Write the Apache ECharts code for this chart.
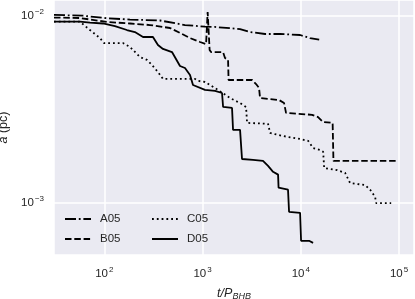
<!DOCTYPE html>
<html>
<head>
<meta charset="utf-8">
<script src="https://cdn.jsdelivr.net/npm/echarts@6/dist/echarts.min.js"></script>
<style>
html,body{margin:0;padding:0;background:#fff;}
#c{width:415px;height:299px;}
</style>
</head>
<body>
<div id="c"></div>
<script>
// ---- data (t/P_BHB, a in pc) ----
const a05X = [30.8, 60.7, 106.5, 183, 369, 663, 1060, 1340, 2410, 3050, 4330, 6150, 9840, 12400, 15400];
const a05Y = [0.0101, 0.0100, 0.00969, 0.00954, 0.00943, 0.00892, 0.00874, 0.00871, 0.00849, 0.00818, 0.00799, 0.00799, 0.00789, 0.00760, 0.00746];

const b05X = [30.8, 56.6, 106.5, 183, 292, 467, 590, 746, 944, 1087, 1120, 1128, 1173, 1181, 1221, 1618, 1694, 1820, 1841, 3190, 3506, 3759, 3850, 6010, 6760, 7080, 13030, 15000, 16860, 21100, 21500, 98000];
const b05Y = [0.00978, 0.00972, 0.00926, 0.00909, 0.00892, 0.00860, 0.00809, 0.00760, 0.00724, 0.00706, 0.00706, 0.01047, 0.01047, 0.00657, 0.00640, 0.00640, 0.00595, 0.00581, 0.00454, 0.00454, 0.00432, 0.00412, 0.00364, 0.00355, 0.00342, 0.00303, 0.00296, 0.00288, 0.00271, 0.00268, 0.00168, 0.00168];

const c05X = [30.8, 56.6, 71.5, 90.4, 99.3, 155, 183, 231, 272, 306, 352, 396, 839, 900, 1060, 1192, 1438, 1906, 2410, 2774, 2840, 4645, 4870, 6610, 9840, 11880, 13360, 15740, 16900, 17300, 23450, 28270, 31770, 45160, 50800, 57100, 58480, 83180];
const c05Y = [0.00931, 0.00929, 0.00839, 0.00760, 0.00715, 0.00715, 0.00681, 0.00602, 0.00581, 0.00546, 0.00501, 0.00460, 0.00460, 0.00449, 0.00443, 0.00427, 0.00402, 0.00364, 0.00342, 0.00326, 0.00268, 0.00265, 0.00237, 0.00228, 0.00220, 0.00215, 0.00197, 0.00192, 0.00188, 0.00154, 0.00150, 0.00145, 0.00128, 0.00125, 0.00118, 0.00108, 0.00100, 0.00100];

const d05X = [30.8, 56.6, 71.5, 97.0, 128.5, 170, 205, 248, 313, 352, 396, 489, 590, 663, 746, 800, 1060, 1340, 1580, 1620, 1997, 2045, 2410, 2523, 3265, 4128, 4645, 5224, 5875, 5943, 7416, 7598, 9840, 10070, 12140, 13340];
const d05Y = [0.00931, 0.00929, 0.00918, 0.00909, 0.00881, 0.00839, 0.00818, 0.00770, 0.00770, 0.00698, 0.00665, 0.00640, 0.00539, 0.00526, 0.00483, 0.00427, 0.00402, 0.00397, 0.00387, 0.00326, 0.00322, 0.00246, 0.00246, 0.00172, 0.00170, 0.00168, 0.00158, 0.00147, 0.00142, 0.00121, 0.00118, 0.000899, 0.000888, 0.000630, 0.000630, 0.000614];

const seriesNames = ['A05', 'B05', 'C05', 'D05'];

// ---- chart ----
const FONT = '"Liberation Sans", Arial, sans-serif';
const TXT = '#262626';
function pair(xs, ys) { return xs.map((x, i) => [x, ys[i]]); }
function decade(v) {
  const l = Math.log10(v);
  const r = Math.round(l);
  if (Math.abs(l - r) > 1e-6) return '';
  return '{b|10}{s|' + String(r).replace('-', '\u2212') + '}';
}
const rich = {
  b: { fontSize: 11.5, fontFamily: FONT, color: TXT },
  s: { fontSize: 8, fontFamily: FONT, color: TXT, verticalAlign: 'bottom', padding: [0, 0, 8, 1] }
};
const chart = echarts.init(document.getElementById('c'), null, { renderer: 'canvas' });
const lineW = 1.8;
const styles = [
  { type: [11, 2.8, 1.8, 2.8] },
  { type: [6.5, 2.8] },
  { type: [1.8, 3] },
  { type: 'solid' }
];
const data = [pair(a05X, a05Y), pair(b05X, b05Y), pair(c05X, c05Y), pair(d05X, d05Y)];
const legendText = { fontSize: 11.5, fontFamily: FONT, color: TXT, padding: [0, 0, 0, 4] };
const legendCommon = {
  orient: 'vertical', top: 208, itemWidth: 26, itemHeight: 10, itemGap: 8,
  textStyle: legendText, itemStyle: { opacity: 0, borderWidth: 0 }
};
chart.setOption({
  animation: false,
  backgroundColor: '#ffffff',
  grid: { left: 54, right: 1, top: 0, bottom: 44, show: true, backgroundColor: '#EAEAF2', borderWidth: 0, outerBoundsMode: 'none', containLabel: false },
  legend: [
    Object.assign({ data: ['A05', 'B05'], left: 59 }, legendCommon),
    Object.assign({ data: ['C05', 'D05'], left: 146 }, legendCommon)
  ],
  xAxis: {
    type: 'log', logBase: 10, min: 30.8, max: 142000,
    axisLine: { show: false }, axisTick: { show: false },
    splitLine: { show: true, lineStyle: { color: '#ffffff', width: 1.5 } },
    minorSplitLine: { show: false },
    axisLabel: { formatter: decade, rich: rich, margin: 11, showMinLabel: false, showMaxLabel: false },
    name: '{i|t/P}{sub|BHB}', nameLocation: 'middle', nameGap: 32,
    nameTextStyle: { rich: {
      i: { fontSize: 12.5, fontStyle: 'italic', fontFamily: FONT, color: TXT },
      sub: { fontSize: 9, fontStyle: 'italic', fontFamily: FONT, color: TXT, verticalAlign: 'bottom', padding: [5, 0, 0, 0] }
    } }
  },
  yAxis: {
    type: 'log', logBase: 10, min: 0.000529, max: 0.01213,
    axisLine: { show: false }, axisTick: { show: false },
    splitLine: { show: true, lineStyle: { color: '#ffffff', width: 1.5 } },
    axisLabel: { formatter: decade, rich: rich, margin: 10, showMinLabel: false, showMaxLabel: false },
    name: '{i|a} (pc)', nameLocation: 'middle', nameGap: 33, nameRotate: 90,
    nameTextStyle: { fontSize: 12.5, fontFamily: FONT, color: TXT, rich: {
      i: { fontSize: 12.5, fontStyle: 'italic', fontFamily: FONT, color: TXT }
    } }
  },
  series: seriesNames.map((n, k) => ({
    name: n, type: 'line', data: data[k], showSymbol: false, symbol: 'none',
    lineStyle: { color: '#000000', width: lineW, type: styles[k].type, cap: 'butt' },
    itemStyle: { color: '#000000' }
  }))
});
</script>
</body>
</html>
